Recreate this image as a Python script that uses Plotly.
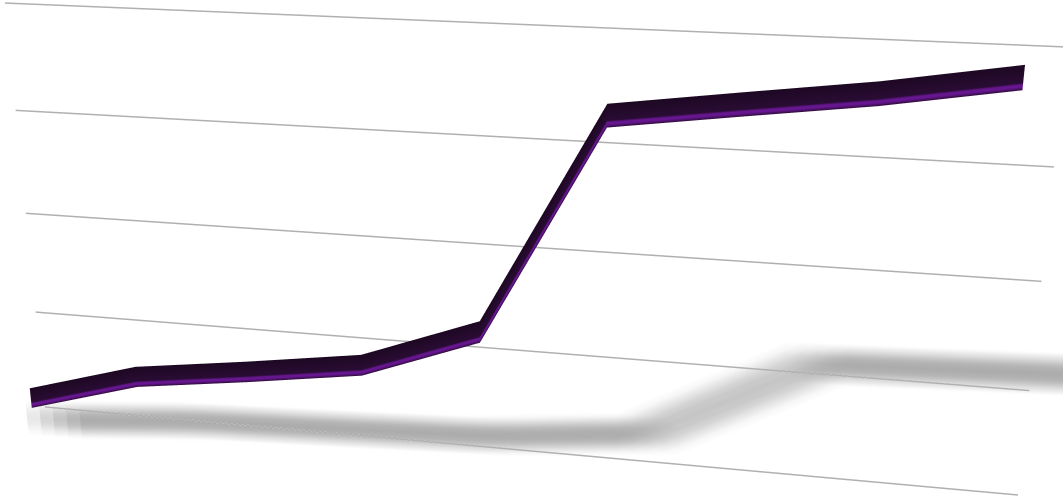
import plotly.graph_objects as go

# ---------------- data ----------------
categories = [0, 1, 2, 3, 4, 5, 6, 7, 8]
values = [0.5, 7.0, 10.0, 13.3, 21.8, 63.5, 66.6, 69.6, 73.4]
grid_values = [0, 20, 40, 60, 80]

# ---------------- layout / style constants ----------------
X_RANGE = [-1.0, 11.5]
Y_RANGE = [-1.0, 1.0]
Z_RANGE = [-10.0, 90.0]
SX = 0.182733       # box units per category
SZ = 0.00780401     # box units per value unit
SY = 0.5            # box units per depth unit
GRID_X = [0.114, 8.278]

# the chart wall is a slightly tilted plane in the 3-D scene
WALL_CAT0, WALL_VAL0 = 4.196, 40.0
Y_PER_CAT = 0.087346
Y_PER_VAL = -0.0037304

# camera (scene box units); box centre offset follows from the x range
X_MID_REF = 5.25
X_SHIFT = ((X_RANGE[0] + X_RANGE[1]) / 2 - X_MID_REF) * SX


def depth(c, v, layer):
    return Y_PER_CAT * (c - WALL_CAT0) + Y_PER_VAL * (v - WALL_VAL0) + layer


# ribbon (band drawn in the wall plane)
RIB_OFFSETS = [-0.9, -0.35, 0.0, 0.35, 3.3]
RIB_SHADES = [0.5, 1.0, 1.0, 0.45, 0.0]
RIB_SCALE = [[0, '#1d0823'], [0.45, '#2a0c34'], [0.5, '#2e0c3a'], [1, '#66168f']]

# drop shadow (soft grey band, built from a few translucent copies)
SH_STRETCH = 1.304
SH_BASE = -3.0
SH_GAIN = 0.39
SH_OFFSETS = [-4.0, -2.6, -1.2, 0.0, 1.2, 2.6, 4.0]
SH_SHADES = [1.0, 0.6, 0.2, 0.0, 0.2, 0.6, 1.0]
SH_SHIFTS = [-0.08, 0.04, 0.16, 0.28, 0.40]
SH_ALPHA = 0.16

FLAT = dict(ambient=1, diffuse=0, specular=0, roughness=1, fresnel=0)

fig = go.Figure()

# shadow (slightly behind the wall plane)
for k, s in enumerate(SH_SHIFTS):
    sh_x = [[SH_STRETCH * c + s for c in categories] for _ in SH_OFFSETS]
    sh_z = [[SH_BASE + SH_GAIN * v + o for v in values] for o in SH_OFFSETS]
    sh_y = [[depth(x, z, 0.004 + 0.002 * k) for x, z in zip(rx, rz)]
            for rx, rz in zip(sh_x, sh_z)]
    fig.add_trace(go.Surface(
        x=sh_x, y=sh_y, z=sh_z,
        surfacecolor=[[t for _ in categories] for t in SH_SHADES],
        colorscale=[[0, '#6e6e6e'], [1, '#6e6e6e']], cmin=0, cmax=1,
        opacityscale=[[0, SH_ALPHA], [0.2, SH_ALPHA * 0.85], [0.6, SH_ALPHA * 0.35], [1, 0]],
        showscale=False, lighting=FLAT, hoverinfo='skip'))

# gridlines on the wall
for g in grid_values:
    fig.add_trace(go.Scatter3d(
        x=GRID_X, y=[depth(x, g, 0.0) for x in GRID_X], z=[g, g], mode='lines',
        line=dict(color='#b0b0b0', width=3), hoverinfo='skip'))

# ribbon (slightly in front of the wall)
rb_x = [[c for c in categories] for _ in RIB_OFFSETS]
rb_z = [[v + o for v in values] for o in RIB_OFFSETS]
rb_y = [[depth(x, z, -0.004) for x, z in zip(rx, rz)] for rx, rz in zip(rb_x, rb_z)]
fig.add_trace(go.Surface(
    x=rb_x, y=rb_y, z=rb_z,
    surfacecolor=[[t for _ in categories] for t in RIB_SHADES],
    colorscale=RIB_SCALE, cmin=0, cmax=1, showscale=False,
    lighting=FLAT, hoverinfo='skip'))

fig.update_layout(
    width=1063, height=500, autosize=False,
    margin=dict(l=0, r=0, t=0, b=0, pad=0),
    paper_bgcolor='white', showlegend=False,
    scene=dict(
        domain=dict(x=[0, 1], y=[0, 1]),
        xaxis=dict(range=X_RANGE, visible=False),
        yaxis=dict(range=Y_RANGE, visible=False),
        zaxis=dict(range=Z_RANGE, visible=False),
        aspectmode='manual',
        aspectratio=dict(x=(X_RANGE[1] - X_RANGE[0]) * SX,
                         y=(Y_RANGE[1] - Y_RANGE[0]) * SY,
                         z=(Z_RANGE[1] - Z_RANGE[0]) * SZ),
        camera=dict(
            eye=dict(x=0.117572 - X_SHIFT, y=-0.848635, z=-0.095100),
            center=dict(x=-0.152820 - X_SHIFT, y=0.012919, z=-0.003901),
            up=dict(x=-0.040746, y=-0.117814, z=0.992200),
            projection=dict(type='perspective')),
        bgcolor='white'))

fig.write_html("out.html", config={'displayModeBar': False},
               post_script="document.body.style.margin='0';document.body.style.overflow='hidden';")
